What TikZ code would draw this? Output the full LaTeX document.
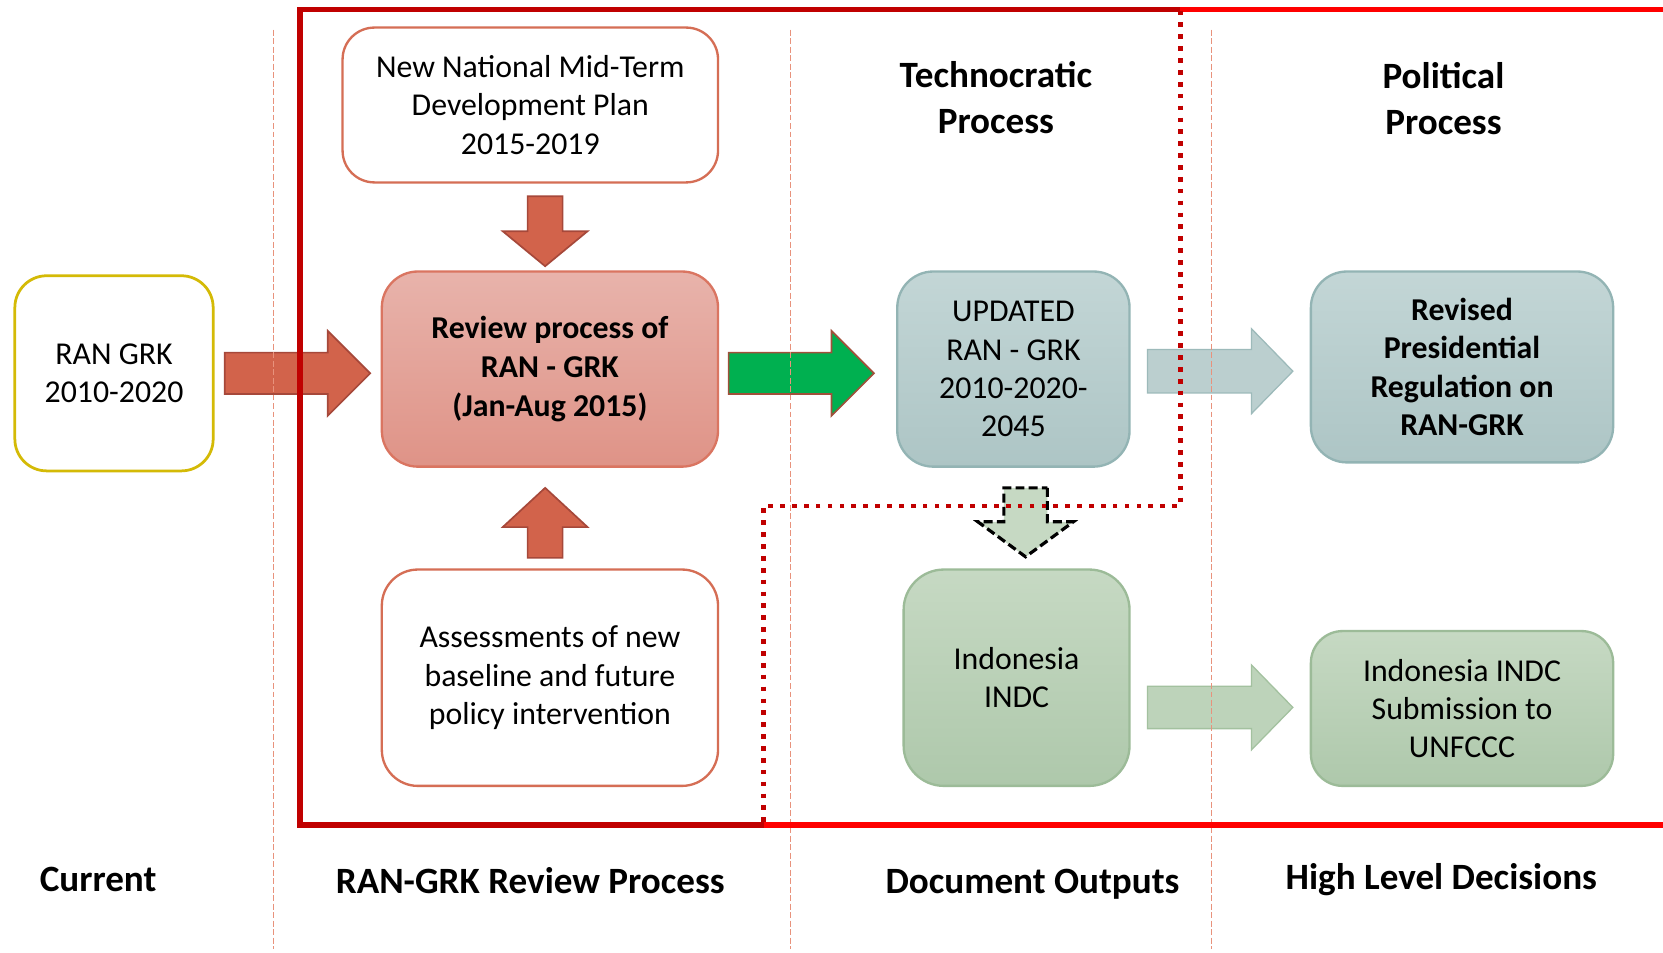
\documentclass[tikz,border=0pt]{standalone}
\usepackage{fontspec}
\setmainfont{Carlito}
\definecolor{darkred}{HTML}{C00000}
\definecolor{brightred}{HTML}{FF0000}
\definecolor{divider}{HTML}{E8927C}
\definecolor{ranyellow}{HTML}{D4BA06}
\definecolor{boxred}{HTML}{D56E55}
\definecolor{revtop}{HTML}{E8B3AB}
\definecolor{revbot}{HTML}{DF9387}
\definecolor{revline}{HTML}{DA7561}
\definecolor{bgtop}{HTML}{C3D6D6}
\definecolor{bgbot}{HTML}{ADC5C5}
\definecolor{bgline}{HTML}{93B4B4}
\definecolor{grtop}{HTML}{C6D9C3}
\definecolor{grbot}{HTML}{AEC8AB}
\definecolor{grline}{HTML}{9CBB98}
\definecolor{arrred}{HTML}{D2634B}
\definecolor{arrredline}{HTML}{A6483A}
\definecolor{arrgreen}{HTML}{00B050}
\definecolor{arrgreenline}{HTML}{A0503A}
\definecolor{arrbg}{HTML}{BBCFCF}
\definecolor{arrbgline}{HTML}{9DBABA}
\definecolor{arrgr}{HTML}{BDD3BA}
\definecolor{arrgrline}{HTML}{A3C19F}
\begin{document}
\begin{tikzpicture}[x=0.5pt,y=-0.5pt,
  txt/.style={font=\fontsize{15}{18}\selectfont},
  btxt/.style={font=\bfseries\fontsize{15}{18.2}\selectfont},
  box/.style={rectangle, rounded corners=15pt, align=center, line width=1.1pt, inner sep=0pt},
  whitebox/.style={box, fill=white, draw=boxred, txt},
  redbox/.style={box, draw=revline, top color=revtop, bottom color=revbot, btxt},
  bgbox/.style={box, draw=bgline, top color=bgtop, bottom color=bgbot},
  grbox/.style={box, draw=grline, top color=grtop, bottom color=grbot},
  head/.style={align=center, font=\bfseries\fontsize{17.5}{21.5}\selectfont},
  colhead/.style={font=\bfseries\fontsize{17.5}{21}\selectfont, anchor=base},
  divline/.style={draw=divider, line width=0.55pt, dash pattern=on 2.8pt off 1.2pt},
  frameline/.style={line width=2.6pt},
  dotline/.style={draw=darkred, line width=2.2pt, dash pattern=on 2.2pt off 3.4pt},
  pics/blockarrow/.style args={#1/#2/#3/#4}{code={
    \path[pic actions] (0,-#2) -- (#3,-#2) -- (#3,-#4) -- (#1,0) -- (#3,#4) -- (#3,#2) -- (0,#2) -- cycle;
  }}
]
\clip (0,0) rectangle (1568,898);
\fill[white] (0,0) rectangle (1568,898);

% boxes
\node[whitebox, draw=ranyellow, line width=1.3pt, minimum width=187*0.5pt, minimum height=184*0.5pt] (ran) at (107.5,352) {RAN GRK\\2010-2020};
\node[whitebox, minimum width=354*0.5pt, minimum height=146*0.5pt] (nnp) at (500,99) {New National Mid-Term\\Development Plan\\2015-2019};
\node[redbox, minimum width=317*0.5pt, minimum height=184*0.5pt, rounded corners=17pt] (review) at (518.5,348) {\raisebox{-1.5pt}{Review process of}\\\raisebox{-1.5pt}{RAN - GRK}\\\raisebox{-1.5pt}{(Jan-Aug 2015)}};
\node[whitebox, minimum width=317*0.5pt, minimum height=204*0.5pt, rounded corners=17pt] (assess) at (518.5,639) {Assessments of new\\baseline and future\\policy intervention};
\node[bgbox, txt, minimum width=219*0.5pt, minimum height=184*0.5pt, rounded corners=17pt] (updated) at (955.5,348) {UPDATED\\RAN - GRK\\2010-2020-\\2045};
\node[bgbox, btxt, minimum width=285*0.5pt, minimum height=180*0.5pt, rounded corners=17pt] (revised) at (1378.5,346) {Revised\\Presidential\\Regulation on\\RAN-GRK};
\node[grbox, txt, minimum width=213*0.5pt, minimum height=204*0.5pt, rounded corners=19pt] (indc) at (958.5,639) {Indonesia\\INDC};
\node[grbox, txt, minimum width=285*0.5pt, minimum height=146*0.5pt, rounded corners=15pt] (submit) at (1378.5,668) {Indonesia INDC\\Submission to\\UNFCCC};

% headers
\node[head] (tech) at (939,92) {Technocratic\\Process};
\node[head] (poli) at (1361,93) {Political\\Process};

% block arrows
\pic[fill=arrred, draw=arrredline, line width=0.8pt] (a1) at (212,352) {blockarrow=137/19.5/97/40};
\pic[fill=arrred, draw=arrredline, line width=0.8pt, rotate=-90] (a2) at (514,185) {blockarrow=66/16.5/33/40};
\pic[fill=arrred, draw=arrredline, line width=0.8pt, rotate=90] (a3) at (514,526) {blockarrow=66/16.5/29/40};
\pic[fill=arrgreen, draw=arrgreenline, line width=0.8pt] (a4) at (687,352) {blockarrow=137/19.5/97/40};
\pic[fill=arrbg, draw=arrbgline, line width=0.6pt] (a5) at (1082,350) {blockarrow=137/20.5/98/40};
\pic[fill=arrgr, draw=arrgrline, line width=0.6pt] (a6) at (1082,667) {blockarrow=137/20/98/40};
\pic[fill=grtop, draw=black, line width=1.5pt, dash pattern=on 4.2pt off 2pt, rotate=-90] (a7) at (967,460) {blockarrow=65/20.5/32/45};

% column dividers
\draw[divline] (258,28) -- (258,895);
\draw[divline] (745,28) -- (745,895);
\draw[divline] (1142,28) -- (1142,895);

% frames
\draw[frameline, darkred] (1113,9) -- (283,9) -- (283,778) -- (720,778);
\draw[frameline, brightred] (1113,9) -- (1590,9);
\draw[frameline, brightred] (720,778) -- (1590,778);
\draw[dotline] (1113,10) -- (1113,477) -- (720,477) -- (720,776);

% column labels
\node[colhead] (c1) at (92.5,841) {Current};
\node[colhead] (c2) at (500,842) {RAN-GRK Review Process};
\node[colhead] (c3) at (973.5,842) {Document Outputs};
\node[colhead] (c4) at (1359,838.5) {High Level Decisions};
\end{tikzpicture}
\end{document}
